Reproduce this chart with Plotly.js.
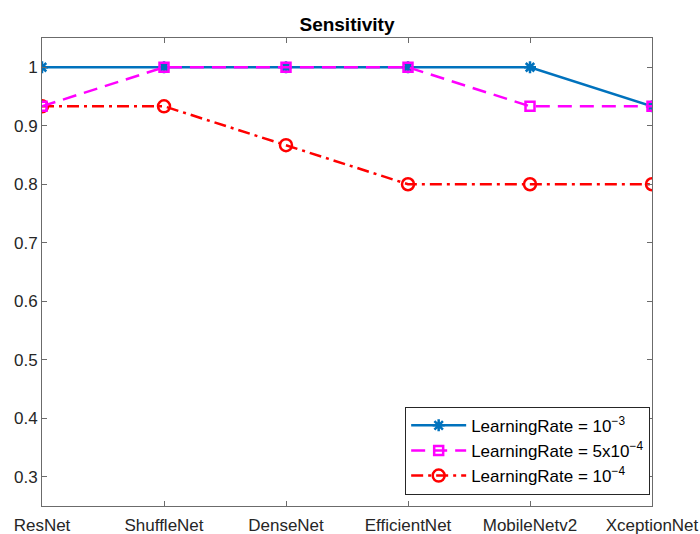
<!DOCTYPE html>
<html>
<head>
<meta charset="utf-8">
<script src="https://cdn.plot.ly/plotly-3.0.1.min.js"></script>
<style>
  html, body { margin: 0; padding: 0; background: #fff; }
  #chart { width: 700px; height: 534px; }
</style>
</head>
<body>
<div id="chart"></div>
<script>
// Models compared
const models = ['ResNet', 'ShuffleNet', 'DenseNet', 'EfficientNet', 'MobileNetv2', 'XceptionNet'];

// Sensitivity per learning rate
const sensLR1e3 = [1, 1, 1, 1, 1, 0.9333];
const sensLR5e4 = [0.9333, 1, 1, 1, 0.9333, 0.9333];
const sensLR1e4 = [0.9333, 0.9333, 0.8667, 0.8, 0.8, 0.8];

const seriesNames = [
  'LearningRate = 10<sup>−3</sup>',
  'LearningRate = 5x10<sup>−4</sup>',
  'LearningRate = 10<sup>−4</sup>'
];

const yTicks = [0.3, 0.4, 0.5, 0.6, 0.7, 0.8, 0.9, 1];

const fontFam = 'Arial, "Liberation Sans", sans-serif';
const axisCol = '#6b6b6b';

// The 1e-4 curve sits underneath; legend order kept via legendrank
const traces = [
  {
    x: models, y: sensLR1e4, name: seriesNames[2], type: 'scatter', mode: 'lines+markers', legendrank: 3,
    line: { color: '#FF0000', width: 2.5, dash: '12px,5px,3px,5px' },
    marker: { symbol: 'circle-open', size: 12, color: '#FF0000', line: { color: '#FF0000', width: 2.5 } }
  },
  {
    x: models, y: sensLR1e3, name: seriesNames[0], type: 'scatter', mode: 'lines+markers', legendrank: 1,
    line: { color: '#0072BD', width: 2.5, dash: 'solid' },
    marker: { symbol: 'asterisk-open', size: 10, color: '#0072BD', line: { color: '#0072BD', width: 2.5 } }
  },
  {
    x: models, y: sensLR5e4, name: seriesNames[1], type: 'scatter', mode: 'lines+markers', legendrank: 2,
    line: { color: '#FF00FF', width: 2.5, dash: '14px,8px' },
    marker: { symbol: 'square-open', size: 9, color: '#FF00FF', line: { color: '#FF00FF', width: 2.5 } }
  }
];

const layout = {
  width: 700, height: 534,
  margin: { l: 42, r: 48, t: 38, b: 28, pad: 0 },
  paper_bgcolor: '#fff', plot_bgcolor: '#fff',
  font: { family: fontFam, size: 17, color: '#262626' },
  title: {
    text: '<b>Sensitivity</b>',
    font: { family: fontFam, size: 19, color: '#000' },
    x: 0.4957, xanchor: 'center', y: 0.955, yanchor: 'middle'
  },
  showlegend: true,
  legend: {
    x: 0.997, xanchor: 'right', y: 0.024, yanchor: 'bottom',
    bgcolor: '#fff', bordercolor: '#262626', borderwidth: 1,
    font: { family: fontFam, size: 17, color: '#000' },
    itemwidth: 55, tracegroupgap: 0, traceorder: 'normal'
  },
  xaxis: {
    type: 'category', range: [0, 5], fixedrange: true,
    showgrid: false, zeroline: false,
    showline: true, linecolor: axisCol, linewidth: 1, mirror: 'ticks',
    ticks: 'inside', ticklen: 5, tickcolor: axisCol, tickwidth: 1,
    ticklabelstandoff: 4,
    tickfont: { family: fontFam, size: 17, color: '#262626' }
  },
  yaxis: {
    range: [0.25, 1.05], fixedrange: true,
    tickvals: yTicks, ticktext: yTicks.map(v => String(v)),
    showgrid: false, zeroline: false,
    showline: true, linecolor: axisCol, linewidth: 1, mirror: 'ticks',
    ticks: 'inside', ticklen: 5, tickcolor: axisCol, tickwidth: 1,
    tickfont: { family: fontFam, size: 17, color: '#262626' }
  }
};

Plotly.newPlot('chart', traces, layout, { staticPlot: true, displayModeBar: false });
</script>
</body>
</html>
